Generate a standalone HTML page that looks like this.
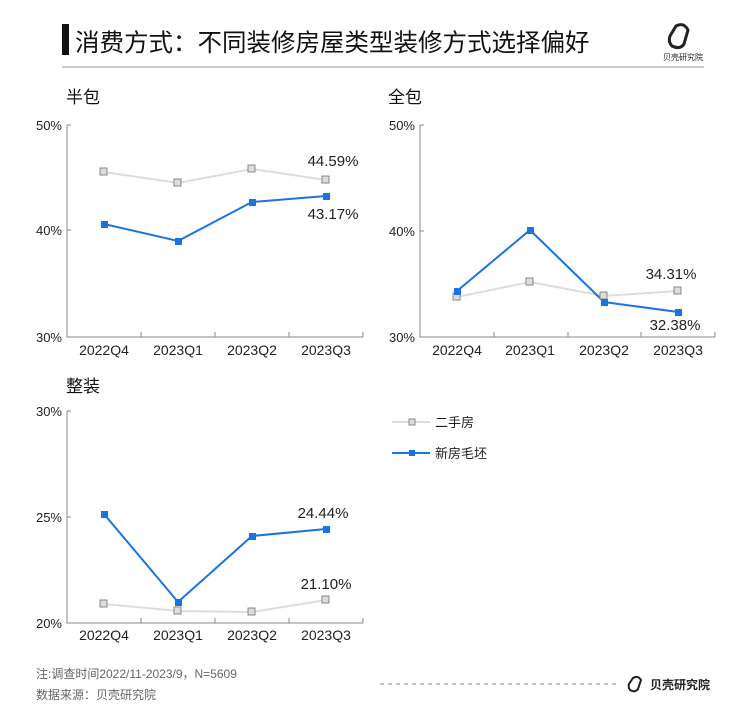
<!DOCTYPE html>
<html><head><meta charset="utf-8"><style>
body{margin:0;background:#fff;}
svg{display:block;font-family:"Liberation Sans","Noto Sans CJK SC",sans-serif;}
</style></head><body>
<svg width="750" height="714" viewBox="0 0 750 714">
<rect x="62" y="24" width="7" height="31" fill="#111"/>
<text x="75" y="51" font-size="24.5" fill="#111">消费方式：不同装修房屋类型装修方式选择偏好</text>
<line x1="62" y1="67" x2="704" y2="67" stroke="#999" stroke-width="1"/>
<path d="M676 26 q8 -4 12 4 l-4 14 q-4 6 -12 2 q-4 -4 -2 -10 z" fill="none" stroke="#222" stroke-width="3"/>
<text x="683" y="60" font-size="8" text-anchor="middle" fill="#222">贝壳研究院</text>

<g font-size="17" fill="#111">
<text x="66" y="103">半包</text><text x="388" y="103">全包</text><text x="66" y="392">整装</text>
</g>

<g stroke="#888" stroke-width="1" fill="none">
<path d="M67 125V337H363M67 125h4M67 230h4M141 337v-5M215 337v-5M289 337v-5M363 337v-5"/>
<path d="M420 125V337H715M420 125h4M420 231h4M494 337v-5M568 337v-5M641 337v-5M715 337v-5"/>
<path d="M67 411V623H363M67 411h4M67 517h4M141 623v-5M215 623v-5M289 623v-5M363 623v-5"/>
</g>

<g font-size="13" fill="#222" text-anchor="end">
<text x="62" y="130">50%</text><text x="62" y="235">40%</text><text x="62" y="342">30%</text>
<text x="415" y="130">50%</text><text x="415" y="236">40%</text><text x="415" y="342">30%</text>
<text x="62" y="416">30%</text><text x="62" y="522">25%</text><text x="62" y="628">20%</text>
</g>
<g font-size="14" fill="#222" text-anchor="middle">
<text x="104" y="355">2022Q4</text><text x="178" y="355">2023Q1</text><text x="252" y="355">2023Q2</text><text x="326" y="355">2023Q3</text>
<text x="457" y="355">2022Q4</text><text x="530" y="355">2023Q1</text><text x="604" y="355">2023Q2</text><text x="678" y="355">2023Q3</text>
<text x="104" y="640">2022Q4</text><text x="178" y="640">2023Q1</text><text x="252" y="640">2023Q2</text><text x="326" y="640">2023Q3</text>
</g>

<g fill="none" stroke-width="2">
<polyline points="104,172 178,183 252,169 326,180" stroke="#ddd"/>
<polyline points="104,224 178,241 252,202 326,196" stroke="#1a73e0"/>
<polyline points="457,297 530,282 604,296 678,291" stroke="#ddd"/>
<polyline points="457,291 530,230 604,302 678,312" stroke="#1a73e0"/>
<polyline points="104,604 178,611 252,612 326,600" stroke="#ddd"/>
<polyline points="104,514 178,602 252,536 326,529" stroke="#1a73e0"/>
</g>
<g fill="#ddd" stroke="#888" stroke-width="1">
<rect x="100" y="168" width="7" height="7"/><rect x="174" y="179" width="7" height="7"/><rect x="248" y="165" width="7" height="7"/><rect x="322" y="176" width="7" height="7"/>
<rect x="453" y="293" width="7" height="7"/><rect x="526" y="278" width="7" height="7"/><rect x="600" y="292" width="7" height="7"/><rect x="674" y="287" width="7" height="7"/>
<rect x="100" y="600" width="7" height="7"/><rect x="174" y="607" width="7" height="7"/><rect x="248" y="608" width="7" height="7"/><rect x="322" y="596" width="7" height="7"/>
</g>
<g fill="#1a73e0">
<rect x="101" y="221" width="7" height="7"/><rect x="175" y="238" width="7" height="7"/><rect x="249" y="199" width="7" height="7"/><rect x="323" y="193" width="7" height="7"/>
<rect x="454" y="288" width="7" height="7"/><rect x="527" y="227" width="7" height="7"/><rect x="601" y="299" width="7" height="7"/><rect x="675" y="309" width="7" height="7"/>
<rect x="101" y="511" width="7" height="7"/><rect x="175" y="599" width="7" height="7"/><rect x="249" y="533" width="7" height="7"/><rect x="323" y="526" width="7" height="7"/>
</g>
<g font-size="15" fill="#222" text-anchor="middle">
<text x="333" y="166">44.59%</text><text x="333" y="219">43.17%</text>
<text x="671" y="279">34.31%</text><text x="675" y="330">32.38%</text>
<text x="323" y="518">24.44%</text><text x="326" y="589">21.10%</text>
</g>

<line x1="392" y1="422" x2="430" y2="422" stroke="#ddd" stroke-width="2"/>
<rect x="409" y="419" width="6" height="6" fill="#ddd" stroke="#888"/>
<text x="435" y="427" font-size="13" fill="#222">二手房</text>
<line x1="392" y1="453" x2="430" y2="453" stroke="#1a73e0" stroke-width="2"/>
<rect x="409" y="450" width="6" height="6" fill="#1a73e0"/>
<text x="435" y="458" font-size="13" fill="#222">新房毛坯</text>

<text x="36" y="678" font-size="12" fill="#666">注:调查时间2022/11-2023/9，N=5609</text>
<text x="36" y="699" font-size="12" fill="#666">数据来源：贝壳研究院</text>
<line x1="380" y1="684" x2="620" y2="684" stroke="#888" stroke-dasharray="4,4"/>
<path d="M633 678 q5 -3 8 2 l-3 9 q-3 4 -8 1 q-2 -3 -1 -6 z" fill="none" stroke="#222" stroke-width="2"/>
<text x="650" y="689" font-size="12" fill="#222" font-weight="bold">贝壳研究院</text>
</svg>
</body></html>
